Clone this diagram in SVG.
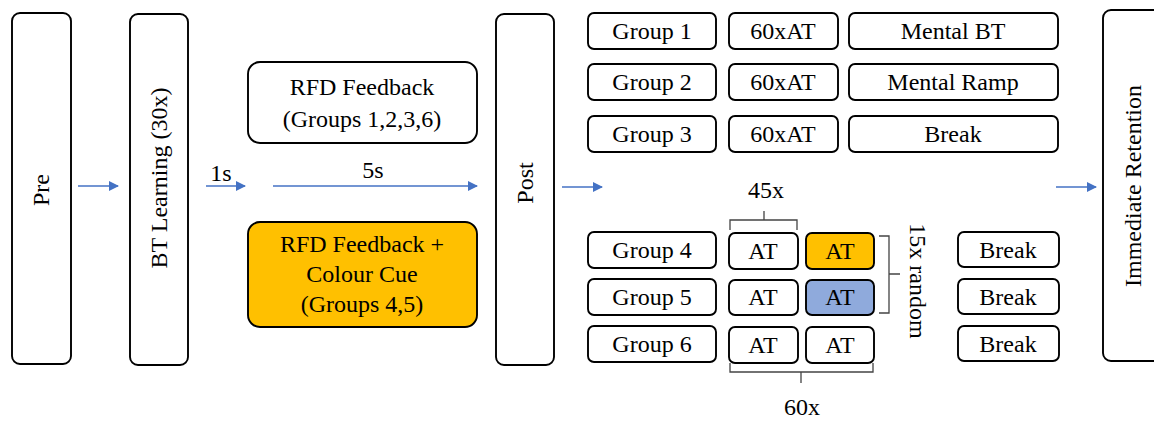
<svg xmlns="http://www.w3.org/2000/svg" width="1154" height="423" viewBox="0 0 1154 423">
  <style>
    .box { fill: #ffffff; stroke: #000000; stroke-width: 1.9; }
    .orange { fill: #FFC000; }
    .blue { fill: #8FAADC; }
    .lbl { font-family: "Liberation Serif", "Times New Roman", serif; font-size: 24px; fill: #000000; text-anchor: middle; }
    .conn { stroke: #4472C4; stroke-width: 1.4; fill: none; marker-end: url(#arrow); }
    .brace { stroke: #444444; stroke-width: 1.3; fill: none; }
  </style>
  <defs>
    <marker id="arrow" viewBox="0 0 10 10" refX="9" refY="5" markerWidth="10" markerHeight="10" markerUnits="userSpaceOnUse" orient="auto">
      <path d="M0,0 L10,5 L0,10 z" fill="#4472C4"/>
    </marker>
  </defs>

  <!-- phase columns -->
  <g id="pre">
    <rect class="box" x="12" y="13" width="59" height="351" rx="8"/>
    <text class="lbl" transform="translate(49,190) rotate(-90)">Pre</text>
  </g>
  <g id="bt-learning">
    <rect class="box" x="130" y="14" width="58" height="351" rx="8"/>
    <text class="lbl" transform="translate(167,178) rotate(-90)">BT Learning (30x)</text>
  </g>
  <g id="post">
    <rect class="box" x="496" y="14" width="58" height="351" rx="8"/>
    <text class="lbl" transform="translate(533,183) rotate(-90)">Post</text>
  </g>
  <g id="immediate-retention">
    <rect class="box" x="1103" y="10" width="70" height="351" rx="8"/>
    <text class="lbl" transform="translate(1141,186) rotate(-90)">Immediate Retention</text>
  </g>

  <!-- feedback conditions -->
  <g id="rfd-feedback">
    <rect class="box" x="248" y="62" width="229" height="81" rx="12"/>
    <text class="lbl" x="362" y="95">RFD Feedback</text>
    <text class="lbl" x="362" y="127">(Groups 1,2,3,6)</text>
  </g>
  <g id="rfd-colour">
    <rect class="box orange" x="248" y="222" width="229" height="105" rx="12"/>
    <text class="lbl" x="362" y="252">RFD Feedback +</text>
    <text class="lbl" x="362" y="282">Colour Cue</text>
    <text class="lbl" x="362" y="312">(Groups 4,5)</text>
  </g>

  <!-- groups 1-3 -->
  <g id="group1">
    <rect class="box" x="588" y="13" width="128" height="36" rx="6"/>
    <text class="lbl" x="652" y="39">Group 1</text>
    <rect class="box" x="729" y="13" width="109" height="36" rx="6"/>
    <text class="lbl" x="783" y="39">60xAT</text>
    <rect class="box" x="849" y="13" width="209" height="36" rx="6"/>
    <text class="lbl" x="953" y="39">Mental BT</text>
  </g>
  <g id="group2">
    <rect class="box" x="588" y="64" width="128" height="36" rx="6"/>
    <text class="lbl" x="652" y="90">Group 2</text>
    <rect class="box" x="729" y="64" width="109" height="36" rx="6"/>
    <text class="lbl" x="783" y="90">60xAT</text>
    <rect class="box" x="849" y="64" width="209" height="36" rx="6"/>
    <text class="lbl" x="953" y="90">Mental Ramp</text>
  </g>
  <g id="group3">
    <rect class="box" x="588" y="116" width="128" height="36" rx="6"/>
    <text class="lbl" x="652" y="142">Group 3</text>
    <rect class="box" x="729" y="116" width="109" height="36" rx="6"/>
    <text class="lbl" x="783" y="142">60xAT</text>
    <rect class="box" x="849" y="116" width="209" height="36" rx="6"/>
    <text class="lbl" x="953" y="142">Break</text>
  </g>

  <!-- groups 4-6 -->
  <g id="group4">
    <rect class="box" x="588" y="232" width="128" height="36" rx="6"/>
    <text class="lbl" x="652" y="258">Group 4</text>
    <rect class="box" x="729" y="233" width="69" height="36" rx="6"/>
    <text class="lbl" x="763" y="259">AT</text>
    <rect class="box orange" x="806" y="233" width="68" height="36" rx="6"/>
    <text class="lbl" x="840" y="259">AT</text>
    <rect class="box" x="958" y="232" width="101" height="35" rx="6"/>
    <text class="lbl" x="1008" y="258">Break</text>
  </g>
  <g id="group5">
    <rect class="box" x="588" y="279" width="128" height="36" rx="6"/>
    <text class="lbl" x="652" y="305">Group 5</text>
    <rect class="box" x="729" y="280" width="69" height="35" rx="6"/>
    <text class="lbl" x="763" y="305">AT</text>
    <rect class="box blue" x="806" y="280" width="68" height="35" rx="6"/>
    <text class="lbl" x="840" y="305">AT</text>
    <rect class="box" x="958" y="279" width="101" height="35" rx="6"/>
    <text class="lbl" x="1008" y="305">Break</text>
  </g>
  <g id="group6">
    <rect class="box" x="588" y="326" width="128" height="36" rx="6"/>
    <text class="lbl" x="652" y="352">Group 6</text>
    <rect class="box" x="729" y="327" width="69" height="36" rx="6"/>
    <text class="lbl" x="763" y="353">AT</text>
    <rect class="box" x="806" y="327" width="68" height="36" rx="6"/>
    <text class="lbl" x="840" y="353">AT</text>
    <rect class="box" x="958" y="326" width="101" height="35" rx="6"/>
    <text class="lbl" x="1008" y="352">Break</text>
  </g>

  <!-- braces and repetition counts -->
  <g id="braces">
    <path class="brace" d="M730,230 V220 H764 V211 M764,220 H797 V230"/>
    <text class="lbl" x="766" y="198">45x</text>
    <path class="brace" d="M730,363 V372 H801 V383 M801,372 H873 V363"/>
    <text class="lbl" x="802" y="415">60x</text>
    <path class="brace" d="M879,236 H889 V274 H900 M889,274 V313 H879"/>
    <text class="lbl" transform="translate(910,281) rotate(90)">15x random</text>
  </g>

  <!-- connectors -->
  <g id="connectors">
    <line class="conn" x1="78" y1="186" x2="118" y2="186"/>
    <line class="conn" x1="206" y1="186" x2="245" y2="186"/>
    <text class="lbl" x="221" y="181">1s</text>
    <line class="conn" x1="273" y1="186" x2="477" y2="186"/>
    <text class="lbl" x="373" y="178">5s</text>
    <line class="conn" x1="562" y1="187" x2="602" y2="187"/>
    <line class="conn" x1="1056" y1="187" x2="1096" y2="187"/>
  </g>
</svg>
